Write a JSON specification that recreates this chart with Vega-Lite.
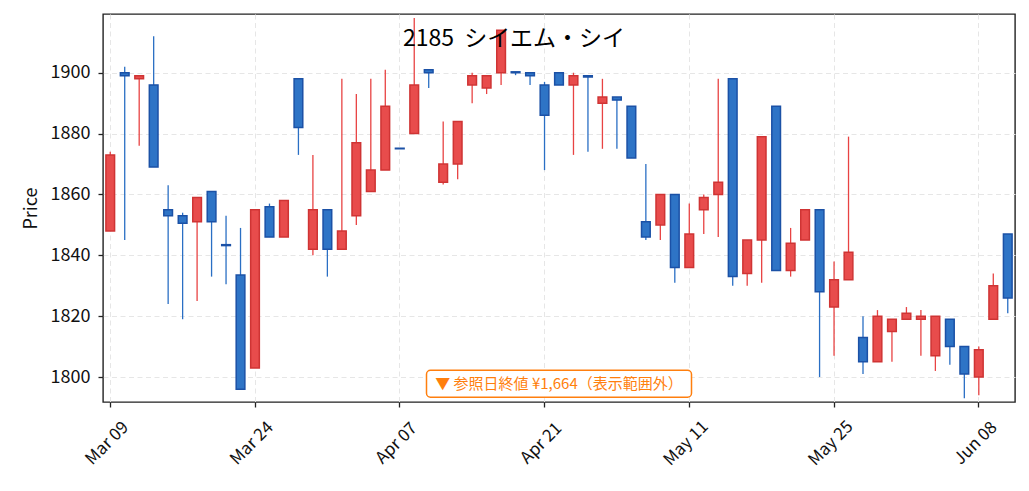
{
  "$schema": "https://vega.github.io/schema/vega-lite/v6.json",
  "width": 912,
  "height": 388,
  "autosize": {"type": "none"},
  "padding": {"left": 103, "top": 14, "right": 14, "bottom": 89},
  "background": "white",
  "title": {
    "text": "2185 \u00a0シイエム・シイ",
    "offset": -33,
    "dx": -45,
    "dy": 22,
    "baseline": "alphabetic",
    "fontSize": 23,
    "fontWeight": "normal",
    "color": "black"
  },
  "config": {
    "font": "Noto Sans CJK JP",
    "view": {"stroke": "#222", "strokeWidth": 1.4},
    "axis": {
      "domain": false,
      "tickColor": "#222",
      "tickWidth": 1.3,
      "tickSize": 5,
      "labelColor": "#111",
      "titleColor": "#111",
      "labelFontSize": 18,
      "titleFontSize": 18,
      "titleFontWeight": "normal",
      "gridColor": "#e6e6e6",
      "gridDash": [5, 3.5],
      "gridWidth": 1
    }
  },
  "data": {
    "values": [
      {"date": "2026-03-09", "open": 1848, "high": 1874, "low": 1848, "close": 1873},
      {"date": "2026-03-10", "open": 1900, "high": 1902, "low": 1845, "close": 1899},
      {"date": "2026-03-11", "open": 1898, "high": 1899, "low": 1876, "close": 1899},
      {"date": "2026-03-12", "open": 1896, "high": 1912, "low": 1869, "close": 1869},
      {"date": "2026-03-13", "open": 1855, "high": 1863, "low": 1824, "close": 1853},
      {"date": "2026-03-16", "open": 1853, "high": 1854, "low": 1819, "close": 1850.5},
      {"date": "2026-03-17", "open": 1851, "high": 1859, "low": 1825, "close": 1859},
      {"date": "2026-03-18", "open": 1861, "high": 1861, "low": 1833, "close": 1851},
      {"date": "2026-03-19", "open": 1843.5, "high": 1853, "low": 1830.5, "close": 1843.2},
      {"date": "2026-03-23", "open": 1833.5, "high": 1849, "low": 1796, "close": 1796},
      {"date": "2026-03-24", "open": 1803, "high": 1855, "low": 1803, "close": 1855},
      {"date": "2026-03-25", "open": 1856, "high": 1857, "low": 1846, "close": 1846},
      {"date": "2026-03-26", "open": 1846, "high": 1858, "low": 1846, "close": 1858},
      {"date": "2026-03-27", "open": 1898, "high": 1898, "low": 1873, "close": 1882},
      {"date": "2026-03-30", "open": 1842, "high": 1873, "low": 1840, "close": 1855},
      {"date": "2026-03-31", "open": 1855, "high": 1855, "low": 1833, "close": 1842},
      {"date": "2026-04-01", "open": 1842, "high": 1898, "low": 1842, "close": 1848},
      {"date": "2026-04-02", "open": 1853, "high": 1893, "low": 1850, "close": 1877},
      {"date": "2026-04-03", "open": 1861, "high": 1898, "low": 1861, "close": 1868},
      {"date": "2026-04-06", "open": 1868, "high": 1901, "low": 1868, "close": 1889},
      {"date": "2026-04-07", "open": 1875.2, "high": 1875.2, "low": 1875, "close": 1875},
      {"date": "2026-04-08", "open": 1880, "high": 1918, "low": 1880, "close": 1896},
      {"date": "2026-04-09", "open": 1901, "high": 1901, "low": 1895, "close": 1900},
      {"date": "2026-04-10", "open": 1864, "high": 1884, "low": 1863.3, "close": 1870},
      {"date": "2026-04-13", "open": 1870, "high": 1884, "low": 1865, "close": 1884},
      {"date": "2026-04-14", "open": 1896, "high": 1900, "low": 1890, "close": 1899},
      {"date": "2026-04-15", "open": 1895, "high": 1899, "low": 1893, "close": 1899},
      {"date": "2026-04-16", "open": 1900, "high": 1914, "low": 1896, "close": 1914},
      {"date": "2026-04-17", "open": 1900.3, "high": 1900.3, "low": 1899.2, "close": 1900},
      {"date": "2026-04-20", "open": 1900, "high": 1900, "low": 1896, "close": 1899},
      {"date": "2026-04-21", "open": 1896, "high": 1897, "low": 1868, "close": 1886},
      {"date": "2026-04-22", "open": 1900, "high": 1900, "low": 1896, "close": 1896},
      {"date": "2026-04-23", "open": 1896, "high": 1900, "low": 1873, "close": 1899},
      {"date": "2026-04-24", "open": 1899, "high": 1899, "low": 1874, "close": 1898.6},
      {"date": "2026-04-27", "open": 1890, "high": 1898, "low": 1875, "close": 1892},
      {"date": "2026-04-28", "open": 1892, "high": 1892, "low": 1875, "close": 1891},
      {"date": "2026-04-30", "open": 1889, "high": 1889, "low": 1872, "close": 1872},
      {"date": "2026-05-01", "open": 1851, "high": 1870, "low": 1845, "close": 1846},
      {"date": "2026-05-07", "open": 1850, "high": 1860, "low": 1845, "close": 1860},
      {"date": "2026-05-08", "open": 1860, "high": 1860, "low": 1831, "close": 1836},
      {"date": "2026-05-11", "open": 1836, "high": 1857, "low": 1836, "close": 1847},
      {"date": "2026-05-12", "open": 1855, "high": 1860, "low": 1847, "close": 1859},
      {"date": "2026-05-13", "open": 1860, "high": 1898, "low": 1846, "close": 1864},
      {"date": "2026-05-14", "open": 1898, "high": 1898, "low": 1830, "close": 1833},
      {"date": "2026-05-15", "open": 1834, "high": 1845, "low": 1830, "close": 1845},
      {"date": "2026-05-18", "open": 1845, "high": 1879, "low": 1831, "close": 1879},
      {"date": "2026-05-19", "open": 1889, "high": 1889, "low": 1835, "close": 1835},
      {"date": "2026-05-20", "open": 1835, "high": 1849, "low": 1833, "close": 1844},
      {"date": "2026-05-21", "open": 1845, "high": 1855, "low": 1845, "close": 1855},
      {"date": "2026-05-22", "open": 1855, "high": 1855, "low": 1800, "close": 1828},
      {"date": "2026-05-25", "open": 1823, "high": 1838, "low": 1807, "close": 1832},
      {"date": "2026-05-26", "open": 1832, "high": 1879, "low": 1832, "close": 1841},
      {"date": "2026-05-27", "open": 1813, "high": 1820, "low": 1801, "close": 1805},
      {"date": "2026-05-28", "open": 1805, "high": 1822, "low": 1805, "close": 1820},
      {"date": "2026-05-29", "open": 1815, "high": 1819, "low": 1805, "close": 1819},
      {"date": "2026-06-01", "open": 1819, "high": 1823, "low": 1819, "close": 1821},
      {"date": "2026-06-02", "open": 1819, "high": 1822, "low": 1807, "close": 1820},
      {"date": "2026-06-03", "open": 1807, "high": 1820, "low": 1802, "close": 1820},
      {"date": "2026-06-04", "open": 1819, "high": 1819, "low": 1804, "close": 1810},
      {"date": "2026-06-05", "open": 1810, "high": 1810, "low": 1793, "close": 1801},
      {"date": "2026-06-08", "open": 1800, "high": 1810, "low": 1794, "close": 1809},
      {"date": "2026-06-09", "open": 1819, "high": 1834, "low": 1819, "close": 1830},
      {"date": "2026-06-10", "open": 1847, "high": 1847, "low": 1821, "close": 1826}
    ]
  },
  "layer": [
    {
      "mark": {"type": "rule", "strokeWidth": 1.3},
      "encoding": {
        "x": {
          "field": "date",
          "type": "ordinal",
          "scale": {"paddingInner": 0, "paddingOuter": 0},
          "axis": {
            "title": null,
            "values": ["2026-03-09", "2026-03-24", "2026-04-07", "2026-04-21", "2026-05-11", "2026-05-25", "2026-06-08"],
            "labelExpr": "utcFormat(toDate(datum.value), '%b %d')",
            "labelAngle": -45,
            "labelAlign": "center",
            "labelBaseline": "middle",
            "labelPadding": 36,
            "labelOffset": -3,
            "labelFontSize": 17,
            "grid": true
          }
        },
        "y": {
          "field": "low",
          "type": "quantitative",
          "scale": {"domain": [1791.8, 1919.3], "nice": false, "zero": false},
          "axis": {
            "title": "Price",
            "values": [1800, 1820, 1840, 1860, 1880, 1900],
            "format": "d",
            "labelPadding": 8,
            "titlePadding": 10,
            "grid": true
          }
        },
        "y2": {"field": "high"},
        "stroke": {
          "condition": {"test": "datum.close >= datum.open", "value": "#e84343"},
          "value": "#2a6fc4"
        }
      }
    },
    {
      "mark": {"type": "bar", "width": {"band": 0.6}, "strokeWidth": 1.5},
      "encoding": {
        "x": {"field": "date", "type": "ordinal"},
        "y": {"field": "open", "type": "quantitative"},
        "y2": {"field": "close"},
        "fill": {
          "condition": {"test": "datum.close >= datum.open", "value": "#e84c4c"},
          "value": "#2e74c6"
        },
        "stroke": {
          "condition": {"test": "datum.close >= datum.open", "value": "#cf3434"},
          "value": "#1b51a6"
        }
      }
    },
    {
      "data": {"values": [{"label": "▼ 参照日終値 ¥1,664（表示範囲外）"}]},
      "mark": {
        "type": "rect",
        "width": 265,
        "height": 27,
        "cornerRadius": 4,
        "fill": "white",
        "stroke": "#ff7f0e",
        "strokeWidth": 1.5
      },
      "encoding": {
        "x": {"datum": "2026-04-22", "type": "ordinal"},
        "y": {"datum": 1797.8, "type": "quantitative"}
      }
    },
    {
      "data": {"values": [{"label": "▼ 参照日終値 ¥1,664（表示範囲外）"}]},
      "mark": {
        "type": "text",
        "fontSize": 15,
        "color": "#ff7f0e",
        "align": "center",
        "baseline": "middle"
      },
      "encoding": {
        "x": {"datum": "2026-04-22", "type": "ordinal"},
        "y": {"datum": 1797.8, "type": "quantitative"},
        "text": {"field": "label"}
      }
    }
  ]
}
